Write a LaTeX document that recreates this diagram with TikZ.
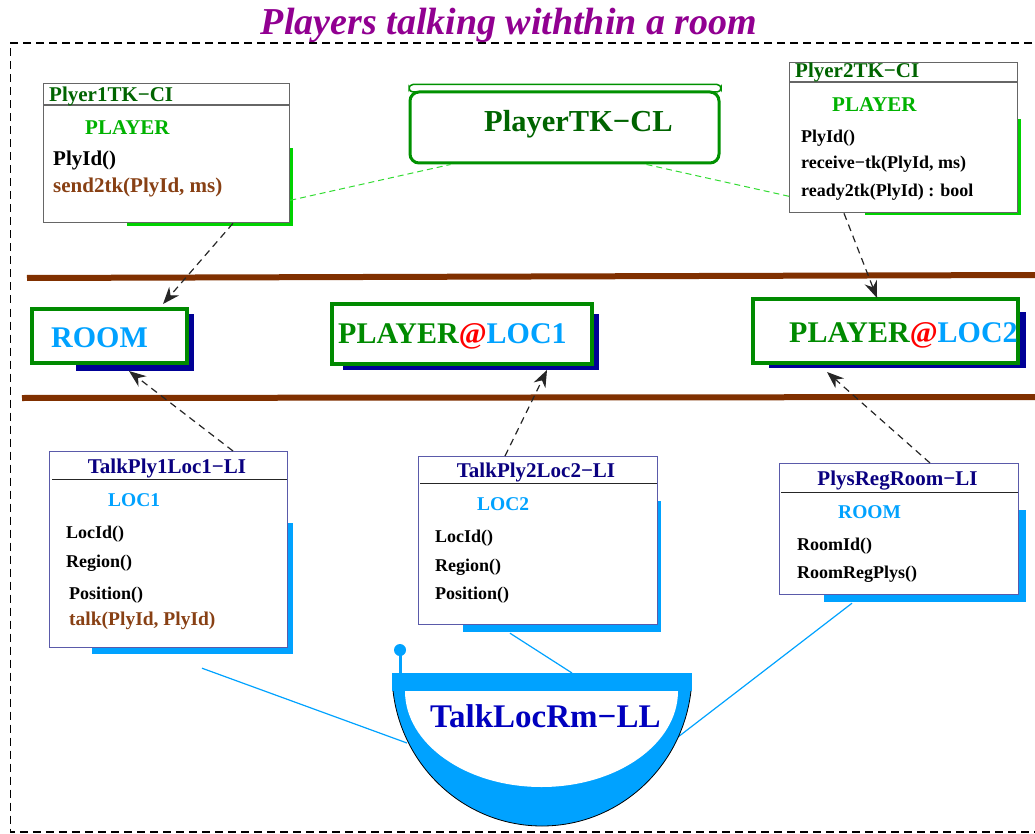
\documentclass[tikz,border=0pt]{standalone}
\usepackage{fontspec}
\setmainfont{Liberation Serif}
\usetikzlibrary{arrows.meta,calc}

\definecolor{ttlpurple}{RGB}{145,0,145}
\definecolor{skyblue}{RGB}{0,162,255}
\definecolor{navyshadow}{RGB}{0,0,150}
\definecolor{framegreen}{RGB}{0,138,0}
\definecolor{clgreen}{RGB}{0,145,0}
\definecolor{darkgreen}{RGB}{0,100,0}
\definecolor{brightgreen}{RGB}{0,178,0}
\definecolor{shadowgreen}{RGB}{0,210,0}
\definecolor{linkgreen}{RGB}{50,220,50}
\definecolor{railbrown}{RGB}{128,48,0}
\definecolor{opbrown}{RGB}{136,64,20}
\definecolor{liborder}{RGB}{90,90,170}
\definecolor{linavy}{RGB}{10,0,128}
\definecolor{llblue}{RGB}{0,0,190}

\newcommand{\fsz}[1]{\fontsize{#1}{#1}\selectfont\bfseries}

\begin{document}
\begin{tikzpicture}[x=1pt,y=-1pt,
  lbl/.style={inner sep=0pt, anchor=base west},
  ctr/.style={inner sep=0pt, anchor=base},
  cibox/.style={draw=black!60, line width=1.3pt, fill=white, anchor=north west, inner sep=0pt},
  libox/.style={draw=liborder, line width=1.2pt, fill=white, anchor=north west, inner sep=0pt},
  locbox/.style={draw=framegreen, line width=4pt, fill=white, anchor=north west, inner sep=0pt},
  cisep/.style={black!60, line width=1.3pt},
  lisep/.style={black!85, line width=1pt},
  calls/.style={black!85, line width=1.2pt, dash pattern=on 7pt off 5pt, -{Stealth[length=17pt,width=13pt]}},
  greenlink/.style={linkgreen, line width=1pt, dash pattern=on 6pt off 4pt},
  bluelink/.style={skyblue, line width=1.2pt},
  rail/.style={railbrown, line width=6pt},
  classname/.style={lbl, darkgreen, font=\fsz{21}},
  kind/.style={lbl, brightgreen, font=\fsz{21}},
  litop/.style={ctr, linavy, font=\fsz{21}},
  likind/.style={lbl, skyblue, font=\fsz{19.5}},
  op/.style={lbl, black, font=\fsz{18}},
  loctext/.style={lbl, font=\fsz{30}},
]
\useasboundingbox (0,0) rectangle (1035,834);

% title and frame of the scene
\node[ctr, ttlpurple, font=\fontsize{38}{38}\selectfont\bfseries\itshape] (title) at (509,35) {Players talking withthin a room};
\draw[black, line width=1.2pt, dash pattern=on 8pt off 5pt] (1045,43) -- (10.5,43) -- (10.5,832) -- (1045,832);

% brown rails of the location layer
\draw[rail] (27,278) -- (1035,275);
\draw[rail] (22,398) -- (1035,397);

% ---- upper layer: players ----
\fill[shadowgreen] (127,148) rectangle (293,226);
\node[cibox, minimum width=246pt, minimum height=139pt] (ci1) at (43,83) {};
\draw[cisep] (43.5,105) -- (289.5,105);
\node[classname] (ci1name) at (49,102) {Plyer1TK−CI};
\node[kind] (ci1kind) at (85,135) {PLAYER};
\node[lbl, black, font=\fsz{21}] (ci1op1) at (53,166) {PlyId()};
\node[lbl, opbrown, font=\fsz{21}] (ci1op2) at (53,193) {send2tk(PlyId, ms)};

\fill[shadowgreen] (865,119) rectangle (1021,215);
\node[cibox, minimum width=228pt, minimum height=150pt] (ci2) at (789,62) {};
\draw[cisep] (789.5,82) -- (1017.5,82);
\node[classname] (ci2name) at (795,78) {Plyer2TK−CI};
\node[kind] (ci2kind) at (832,112) {PLAYER};
\node[op] (ci2op1) at (801,143) {PlyId()};
\node[op] (ci2op2) at (801,169) {receive−tk(PlyId, ms)};
\node[op] (ci2op3) at (801,197) {ready2tk(PlyId) : bool};

\draw[clgreen, line width=1.5pt, fill=white, rounded corners=4pt] (409,84.5) rectangle (721,92);
\node[draw=clgreen, line width=3pt, rounded corners=9pt, fill=white, anchor=north west,
      inner sep=0pt, minimum width=309pt, minimum height=71pt] (cl) at (408.5,90.5) {};
\node[lbl, darkgreen, font=\fsz{30.5}] (clname) at (484,132) {PlayerTK−CL};

\draw[greenlink] ($(ci1.south east)+(0,-23)$) -- ($(cl.south west)+(42,0)$);
\draw[greenlink] ($(cl.south east)+(-74,0)$) -- ($(ci2.south west)+(0,-17)$);

% ---- middle layer: locations ----
\fill[navyshadow] (76,314) rectangle (194,371);
\node[locbox, minimum width=155pt, minimum height=54pt] (room) at (30,307) {};
\node[loctext, skyblue] (roomtext) at (51,347) {ROOM};

\fill[navyshadow] (343,314) rectangle (599,370);
\node[locbox, minimum width=260pt, minimum height=60pt] (loc1) at (330,302) {};
\node[loctext] (loc1text) at (338,343) {\textcolor{framegreen}{PLAYER}\textcolor{red}{@}\textcolor{skyblue}{LOC1}};

\fill[navyshadow] (769,312) rectangle (1026,368);
\node[locbox, minimum width=265pt, minimum height=64pt] (loc2) at (751,297) {};
\node[loctext] (loc2text) at (789,342) {\textcolor{framegreen}{PLAYER}\textcolor{red}{@}\textcolor{skyblue}{LOC2}};

\draw[calls] ($(ci1.south west)+(190,0)$) -- ($(room.north west)+(133,-3)$);
\draw[calls] ($(ci2.south west)+(55,0)$) -- ($(loc2.north west)+(126,1)$);

% ---- lower layer: location interfaces ----
\fill[skyblue] (92,523) rectangle (293,654);
\node[libox, minimum width=238pt, minimum height=196pt] (li1) at (49,451) {};
\draw[lisep] (52,479) -- (287,479);
\node[litop] (li1name) at (167,473) {TalkPly1Loc1−LI};
\node[likind] (li1kind) at (108,506) {LOC1};
\node[op] (li1op1) at (66,538) {LocId()};
\node[op] (li1op2) at (66,567) {Region()};
\node[op] (li1op3) at (69,599) {Position()};
\node[lbl, opbrown, font=\fsz{19.5}] (li1op4) at (69,625) {talk(PlyId, PlyId)};

\fill[skyblue] (463,501) rectangle (661,632);
\node[libox, minimum width=239pt, minimum height=168pt] (li2) at (418,456) {};
\draw[lisep] (420,483) -- (657,483);
\node[litop] (li2name) at (536,477) {TalkPly2Loc2−LI};
\node[likind] (li2kind) at (477,510) {LOC2};
\node[op] (li2op1) at (435,542) {LocId()};
\node[op] (li2op2) at (435,571) {Region()};
\node[op] (li2op3) at (435,599) {Position()};

\fill[skyblue] (824,510) rectangle (1026,602);
\node[libox, minimum width=239pt, minimum height=131pt] (li3) at (779,463) {};
\draw[lisep] (781,492) -- (1018,492);
\node[litop] (li3name) at (897.5,485) {PlysRegRoom−LI};
\node[likind] (li3kind) at (838,518) {ROOM};
\node[op] (li3op1) at (797,550) {RoomId()};
\node[op] (li3op2) at (797,578) {RoomRegPlys()};

\draw[calls] ($(li1.north west)+(184,0)$) -- ($(room.south west)+(99,6)$);
\draw[calls] ($(li2.north west)+(87,0)$) -- ($(loc1.south west)+(217,4)$);
\draw[calls] ($(li3.north west)+(151,0)$) -- ($(loc2.south west)+(76,7)$);

% ---- the TalkLocRm bowl ----
\coordinate (bowl) at (542,673);
\draw[bluelink] ($(li1.south west)+(153,20)$) -- ($(bowl)+(-135,70)$);
\draw[bluelink] ($(li2.south west)+(92,8)$) -- ($(bowl)+(30,0)$);
\draw[bluelink] ($(li3.south west)+(73,8)$) -- ($(bowl)+(136,64)$);

\begin{scope}
  \clip (380,691) rectangle (705,840);
  \fill[skyblue] (bowl) ellipse[x radius=150, y radius=153];
  \draw[black, line width=0.8pt] (bowl) ellipse[x radius=150, y radius=153];
  \fill[white] (541.5,691) ellipse[x radius=136.5, y radius=96];
\end{scope}
\fill[skyblue] (392,673) rectangle (692,691);
\draw[skyblue, line width=3pt] (400,673) -- (400,653);
\fill[skyblue] (400,650) circle[radius=6];
\node[lbl, llblue, font=\fsz{33}] (bowltext) at (430,727) {TalkLocRm−LL};

\end{tikzpicture}
\end{document}
